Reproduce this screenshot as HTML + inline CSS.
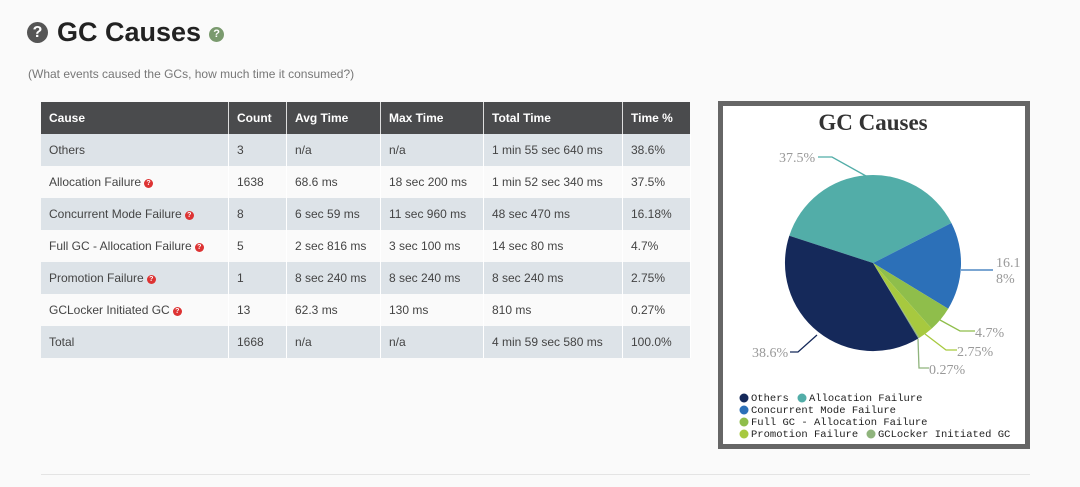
<!DOCTYPE html>
<html><head><meta charset="utf-8"><style>
body{margin:0;width:1080px;height:487px;background:#fafafa;font-family:"Liberation Sans",sans-serif;position:relative;overflow:hidden}
.h1{position:absolute;left:27px;top:17px;font-size:27px;font-weight:bold;color:#222;display:flex;align-items:center}
.q{display:inline-block;border-radius:50%;color:#fff;text-align:center;font-weight:bold}
.sub{position:absolute;left:28px;top:67px;font-size:12px;color:#777}
table{position:absolute;left:41px;top:102px;border-collapse:collapse;font-size:12px;color:#444}
th{background:#4a4b4d;color:#fff;text-align:left;font-weight:bold;height:32px;padding:0 8px;border-right:1px solid #ddd}
td{height:32px;padding:0 8px;border-right:1px solid #fff}
tr:nth-child(even) td{background:#dde3e8}
tr:nth-child(odd) td{background:#fafafa}
.r{display:inline-block;width:9px;height:9px;border-radius:50%;background:#d33;color:#fff;font-size:7px;line-height:9px;text-align:center;font-weight:bold;vertical-align:1px;margin-left:3px}
.box{position:absolute;left:718px;top:101px;width:302px;height:338px;border:5px solid #666;background:#fff}
.hr{position:absolute;left:41px;top:474px;width:989px;border-top:1px solid #e4e4e4}
</style></head><body>
<div class="h1"><span class="q" style="width:21px;height:21px;background:#555;font-size:16px;line-height:21px;margin-right:9px">?</span>GC Causes<span class="q" style="width:15px;height:15px;background:#7a9a6e;font-size:11px;line-height:15px;margin-left:8px;margin-top:4px">?</span></div>
<div class="sub">(What events caused the GCs, how much time it consumed?)</div>
<table>
<tr><th style="width:171px">Cause</th><th style="width:41px">Count</th><th style="width:77px">Avg Time</th><th style="width:86px">Max Time</th><th style="width:122px">Total Time</th><th style="width:51px;border-right:0">Time %</th></tr>
<tr><td>Others</td><td>3</td><td>n/a</td><td>n/a</td><td>1 min 55 sec 640 ms</td><td>38.6%</td></tr>
<tr><td>Allocation Failure<span class="r">?</span></td><td>1638</td><td>68.6 ms</td><td>18 sec 200 ms</td><td>1 min 52 sec 340 ms</td><td>37.5%</td></tr>
<tr><td>Concurrent Mode Failure<span class="r">?</span></td><td>8</td><td>6 sec 59 ms</td><td>11 sec 960 ms</td><td>48 sec 470 ms</td><td>16.18%</td></tr>
<tr><td>Full GC - Allocation Failure<span class="r">?</span></td><td>5</td><td>2 sec 816 ms</td><td>3 sec 100 ms</td><td>14 sec 80 ms</td><td>4.7%</td></tr>
<tr><td>Promotion Failure<span class="r">?</span></td><td>1</td><td>8 sec 240 ms</td><td>8 sec 240 ms</td><td>8 sec 240 ms</td><td>2.75%</td></tr>
<tr><td>GCLocker Initiated GC<span class="r">?</span></td><td>13</td><td>62.3 ms</td><td>130 ms</td><td>810 ms</td><td>0.27%</td></tr>
<tr><td>Total</td><td>1668</td><td>n/a</td><td>n/a</td><td>4 min 59 sec 580 ms</td><td>100.0%</td></tr>
</table>
<div class="box"></div>
<svg style="position:absolute;left:0;top:0" width="1080" height="487">
<text x="873" y="130" text-anchor="middle" font-family="Liberation Serif,serif" font-weight="bold" font-size="23" fill="#333">GC Causes</text>
<g stroke="none">
<path d="M873,263 L789.3,235.8 A88,88 0 0 1 951.4,223 Z" fill="#52ada8"/>
<path d="M873,263 L951.4,223 A88,88 0 0 1 948.2,308.7 Z" fill="#2c70b8"/>
<path d="M873,263 L948.2,308.7 A88,88 0 0 1 931.7,328.6 Z" fill="#8fbe4b"/>
<path d="M873,263 L931.7,328.6 A88,88 0 0 1 919.5,337.7 Z" fill="#a7c93f"/>
<path d="M873,263 L919.5,337.7 A88,88 0 0 1 918.3,338.5 Z" fill="#8fb47c"/>
<path d="M873,263 L918.3,338.5 A88,88 0 0 1 789.3,235.8 Z" fill="#15295a"/>
</g>
<g fill="none" stroke-width="1.3">
<polyline points="866,176 832,157 818,157" stroke="#52ada8"/>
<polyline points="961,270 993,270" stroke="#2c70b8"/>
<polyline points="940,320 960,331 975,331" stroke="#8fbe4b"/>
<polyline points="925,334 946,350 957,350" stroke="#a7c93f"/>
<polyline points="918,339 919,368 929,368" stroke="#8fb47c"/>
<polyline points="817,335 798,352 790,352" stroke="#15295a"/>
</g>
<g font-family="Liberation Serif,serif" font-size="14" fill="#999">
<text x="779" y="162">37.5%</text>
<text x="996" y="267">16.1</text><text x="996" y="283">8%</text>
<text x="975" y="337">4.7%</text>
<text x="957" y="356">2.75%</text>
<text x="929" y="374">0.27%</text>
<text x="752" y="357">38.6%</text>
</g>
<g font-family="Liberation Mono,monospace" font-size="10.5" fill="#222">
<circle cx="744" cy="398" r="4.5" fill="#15295a"/><text x="751" y="401">Others</text>
<circle cx="802" cy="398" r="4.5" fill="#52ada8"/><text x="809" y="401">Allocation Failure</text>
<circle cx="744" cy="410" r="4.5" fill="#2c70b8"/><text x="751" y="413">Concurrent Mode Failure</text>
<circle cx="744" cy="422" r="4.5" fill="#8fbe4b"/><text x="751" y="425">Full GC - Allocation Failure</text>
<circle cx="744" cy="434" r="4.5" fill="#a7c93f"/><text x="751" y="437">Promotion Failure</text>
<circle cx="871" cy="434" r="4.5" fill="#8fb47c"/><text x="878" y="437">GCLocker Initiated GC</text>
</g>
</svg>
<div class="hr"></div>
</body></html>
